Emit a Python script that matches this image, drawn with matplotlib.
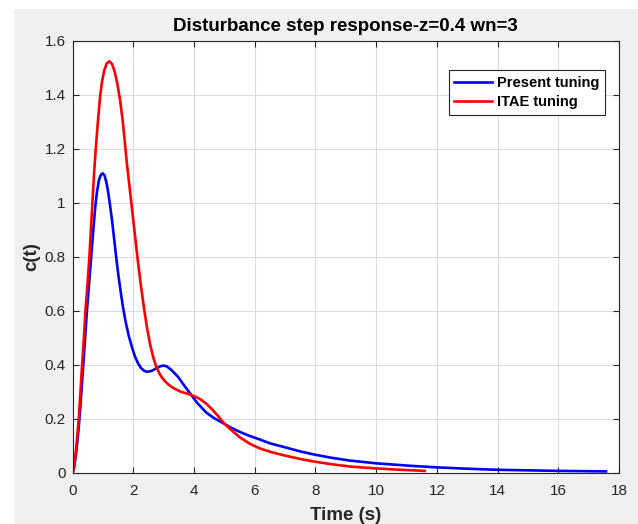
import numpy as np
import matplotlib
matplotlib.use('Agg')
import matplotlib.pyplot as plt
from matplotlib.patches import Rectangle

# valores (tempo em s, c(t))
t_present = [0, 0.05, 0.1, 0.15, 0.2, 0.25, 0.3, 0.35, 0.41, 0.47, 0.54, 0.61, 0.68, 0.74, 0.8,
             0.87, 0.93, 0.99, 1.05, 1.12, 1.18, 1.23, 1.3, 1.37, 1.43, 1.5, 1.58, 1.66, 1.75,
             1.85, 1.95, 2.05, 2.15, 2.25, 2.35, 2.44, 2.6, 2.75, 2.9, 3.0, 3.1, 3.25, 3.48,
             3.7, 3.92, 4.1, 4.4, 4.65, 4.94, 5.2, 5.51, 5.84, 6.17, 6.5, 6.94, 7.5, 7.98,
             8.5, 9.14, 10.0, 11.1, 12.0, 13.0, 14.0, 15.0, 16.0, 17.57]
c_present = [0, 0.02, 0.06, 0.11, 0.17, 0.24, 0.32, 0.4, 0.5, 0.6, 0.7, 0.8, 0.9, 0.98, 1.04,
             1.085, 1.103, 1.108, 1.1, 1.07, 1.03, 0.99, 0.93, 0.86, 0.8, 0.735, 0.67, 0.61, 0.555,
             0.505, 0.465, 0.43, 0.405, 0.387, 0.377, 0.373, 0.376, 0.386, 0.394, 0.396, 0.393,
             0.38, 0.353, 0.318, 0.285, 0.258, 0.222, 0.202, 0.184, 0.167, 0.15, 0.135, 0.122,
             0.108, 0.095, 0.078, 0.066, 0.055, 0.044, 0.034, 0.025, 0.019, 0.014, 0.01, 0.008,
             0.006, 0.004]

t_itae = [0, 0.05, 0.1, 0.15, 0.2, 0.25, 0.31, 0.37, 0.42, 0.49, 0.55, 0.6, 0.65, 0.7, 0.76,
          0.83, 0.91, 0.97, 1.04, 1.12, 1.21, 1.3, 1.38, 1.47, 1.56, 1.65, 1.72, 1.78, 1.86,
          1.95, 2.05, 2.14, 2.25, 2.36, 2.45, 2.55, 2.65, 2.75, 2.85, 2.95, 3.05, 3.15, 3.3,
          3.54, 3.86, 4.0, 4.2, 4.4, 4.6, 4.8, 4.94, 5.1, 5.3, 5.51, 5.84, 6.17, 6.5, 6.94,
          7.5, 7.98, 8.5, 9.14, 10.0, 10.8, 11.6]
c_itae = [0, 0.025, 0.075, 0.135, 0.2, 0.29, 0.4, 0.5, 0.6, 0.7, 0.8, 0.9, 1.0, 1.1, 1.2,
          1.3, 1.4, 1.45, 1.49, 1.515, 1.523, 1.512, 1.485, 1.44, 1.38, 1.3, 1.22, 1.15, 1.07,
          0.98, 0.88, 0.79, 0.69, 0.6, 0.535, 0.475, 0.428, 0.393, 0.368, 0.35, 0.337, 0.326,
          0.314, 0.3, 0.289, 0.283, 0.272, 0.255, 0.233, 0.208, 0.188, 0.17, 0.15, 0.13,
          0.106, 0.089, 0.077, 0.064, 0.05, 0.04, 0.031, 0.022, 0.015, 0.01, 0.006]

x_ticks = np.arange(0, 19, 2)
y_ticks = [0, 0.2, 0.4, 0.6, 0.8, 1, 1.2, 1.4, 1.6]
y_tick_labels = ['0', '0.2', '0.4', '0.6', '0.8', '1', '1.2', '1.4', '1.6']

plt.rcParams['font.family'] = ['Liberation Sans', 'DejaVu Sans']
cinza = '#262626'

fig = plt.figure(figsize=(6.38, 5.24), dpi=100, facecolor='#f0f0f0')
# borda branca do print de tela
fig.patches.append(Rectangle((0, 0), 12.7 / 638, 1, transform=fig.transFigure, color='white', zorder=-1))
fig.patches.append(Rectangle((0, 1 - 8 / 524), 1, 8 / 524, transform=fig.transFigure, color='white', zorder=-1))

ax = fig.add_axes([72.7 / 638, 1 - 472.5 / 524, (619 - 72.7) / 638, (472.5 - 40.5) / 524])
ax.plot(t_present, c_present, color=(0, 0, 1), lw=1.9, label='Present tuning')
ax.plot(t_itae, c_itae, color=(1, 0, 0), lw=1.9, label='ITAE tuning')

ax.set_xlim(0, 18)
ax.set_ylim(0, 1.6)
ax.set_xticks(x_ticks)
ax.set_yticks(y_ticks)
ax.set_yticklabels(y_tick_labels)
ax.grid(True, color='#dcdcdc', lw=0.8)
ax.set_axisbelow(True)
ax.tick_params(direction='in', top=True, right=True, length=4, width=0.8, colors=cinza,
               labelsize=11)
ax.tick_params(axis='x', pad=8)
ax.tick_params(axis='y', pad=5)
for s in ax.spines.values():
    s.set_color(cinza)
    s.set_linewidth(0.8)

ax.set_title('Disturbance step response-z=0.4 wn=3', fontsize=13.5, fontweight='bold', color='black', pad=7)
ax.set_xlabel('Time (s)', fontsize=13.5, fontweight='bold', color=cinza, labelpad=7)
ax.set_ylabel('c(t)', fontsize=13.5, fontweight='bold', color=cinza, labelpad=3)

leg = ax.legend(loc='upper right', bbox_to_anchor=(605 / 638, 1 - 70 / 524), bbox_transform=fig.transFigure,
                fancybox=False, framealpha=1, edgecolor=cinza, handlelength=2.6,
                prop={'weight': 'bold', 'size': 10.5}, borderpad=0.4, labelspacing=0.35,
                handletextpad=0.3, borderaxespad=0)
leg.get_frame().set_linewidth(0.8)

fig.savefig('out.png', dpi=100, facecolor=fig.get_facecolor())
